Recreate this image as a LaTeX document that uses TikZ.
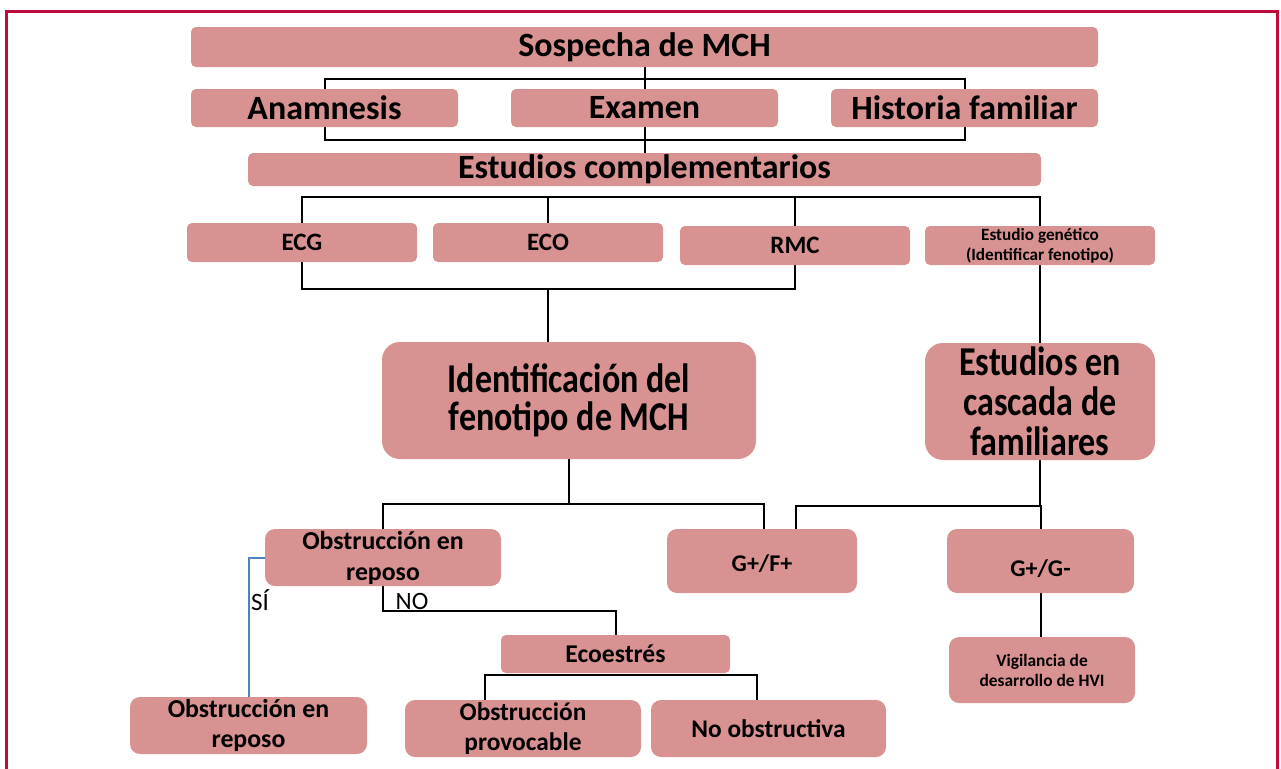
\documentclass[tikz,border=0pt]{standalone}
\usepackage{fontspec}
\setmainfont{Carlito}
\newfontfamily\condfont[FakeStretch=0.83]{Carlito}
\usetikzlibrary{calc}
\definecolor{boxc}{RGB}{216,146,145}
\definecolor{framec}{RGB}{192,10,60}
\definecolor{bluel}{RGB}{79,129,189}
\pgfdeclarelayer{background}
\pgfsetlayers{background,main}
\begin{document}
\begin{tikzpicture}[x=0.5pt,y=-0.5pt,
  box/.style={fill=boxc, rounded corners=2.5pt, inner sep=0pt, align=center},
  mid/.style={box, rounded corners=5pt},
  big/.style={box, rounded corners=9pt},
  conn/.style={draw=black, line width=1pt},
  blueconn/.style={draw=bluel, line width=1pt},
  lbl/.style={inner sep=0pt, font=\fontsize{12.5}{14}\selectfont}]
\useasboundingbox (0,0) rectangle (1281,768);

% frame
\draw[framec, line width=1.5pt] (6,772) -- (6,11) -- (1277,11) -- (1277,772);

% boxes
\node[box, minimum width=453.5pt, minimum height=20pt, font=\bfseries\fontsize{17}{20}\selectfont] (sos) at (644.5,47) {Sospecha de MCH};
\node[box, minimum width=133.5pt, minimum height=19pt, font=\bfseries\fontsize{17}{20}\selectfont] (ana) at (324.5,108) {Anamnesis};
\node[box, minimum width=133.5pt, minimum height=19pt, font=\bfseries\fontsize{17}{20}\selectfont] (exa) at (644.5,108) {Examen};
\node[box, minimum width=133.5pt, minimum height=19pt, font=\bfseries\fontsize{17}{20}\selectfont] (his) at (964.5,108) {Historia familiar};
\node[box, minimum width=396.5pt, minimum height=16.5pt, font=\bfseries\fontsize{17}{20}\selectfont] (est) at (644.5,169.5) {Estudios complementarios};

\node[box, minimum width=115pt, minimum height=19.5pt, font=\bfseries\fontsize{12.5}{15}\selectfont] (ecg) at (302,242.5) {ECG};
\node[box, minimum width=115pt, minimum height=19.5pt, font=\bfseries\fontsize{12.5}{15}\selectfont] (eco) at (548,242.5) {ECO};
\node[box, minimum width=115pt, minimum height=19.5pt, font=\bfseries\fontsize{12.5}{15}\selectfont] (rmc) at (795,245.5) {RMC};
\node[box, minimum width=115pt, minimum height=19.5pt, font=\bfseries\fontsize{8.6}{10}\selectfont] (gen) at (1040,245.5) {Estudio genético\\(Identificar fenotipo)};

\node[big, minimum width=187pt, minimum height=58.5pt, font=\condfont\bfseries\fontsize{20.5}{19}\selectfont] (idf) at (569,400.5) {Identificación del\\fenotipo de MCH};
\node[big, minimum width=115pt, minimum height=58.5pt, font=\condfont\bfseries\fontsize{20.5}{20}\selectfont] (cas) at (1040,401.5) {Estudios en\\cascada de\\familiares};

\node[mid, minimum width=118pt, minimum height=28.5pt, font=\bfseries\fontsize{12.9}{15.5}\selectfont] (obs1) at (383,557.5) {Obstrucción en\\reposo};
\node[mid, minimum width=95pt, minimum height=32pt, font=\bfseries\fontsize{12}{14}\selectfont] (gff) at (762,561) {\raisebox{-5pt}[0pt][0pt]{G+/F+}};
\node[mid, minimum width=93.5pt, minimum height=32pt, font=\bfseries\fontsize{12}{14}\selectfont] (ggg) at (1040.5,561) {\raisebox{-7.6pt}[0pt][0pt]{G+/G-}};
\node[mid, minimum width=93pt, minimum height=33pt, font=\bfseries\fontsize{8.7}{10}\selectfont] (vig) at (1042,670) {Vigilancia de\\desarrollo de HVI};

\node[box, minimum width=114.5pt, minimum height=19pt, font=\bfseries\fontsize{12.8}{15}\selectfont] (ecoe) at (615.5,654) {Ecoestrés};
\node[mid, minimum width=118.5pt, minimum height=28.5pt, font=\bfseries\fontsize{12.9}{15.4}\selectfont] (obs2) at (248.5,725.5) {Obstrucción en\\reposo};
\node[mid, minimum width=118pt, minimum height=28.5pt, font=\bfseries\fontsize{12.7}{15.4}\selectfont] (prov) at (523,728.5) {Obstrucción\\provocable};
\node[mid, minimum width=117.5pt, minimum height=28.5pt, font=\bfseries\fontsize{12.7}{15}\selectfont] (noob) at (768.5,728.5) {No obstructiva};

% labels
\node[lbl] (si) at (260,600) {SÍ};
\node[lbl] (no) at (412,601) {NO};

% helper coordinates
\coordinate (ya) at (0,79);
\coordinate (yb) at (0,140);
\coordinate (yc) at (0,197);
\coordinate (yd) at (0,289);
\coordinate (ye) at (0,504);
\coordinate (yf) at (0,506);
\coordinate (yg) at (0,611);
\coordinate (yh) at (0,675);
\coordinate (gffa) at ($(gff.north)+(2,0)$);
\coordinate (gffb) at ($(gff.north)+(34,0)$);
\coordinate (prova) at ($(prov.north)+(-38,0)$);
\coordinate (nooba) at ($(noob.north)+(-11.5,0)$);

\begin{pgfonlayer}{background}
\draw[conn] (sos.south) -- (est.north);
\draw[conn] (ana.center) |- (his.center |- ya) -- (his.center);
\draw[conn] (ana.center) |- (his.center |- yb) -- (his.center);
\draw[conn] (ecg.north) |- (gen.north |- yc) -- (gen.north);
\draw[conn] (eco.north) -- (eco.north |- yc);
\draw[conn] (rmc.north) -- (rmc.north |- yc);
\draw[conn] (ecg.south) |- (rmc.south |- yd) -- (rmc.south);
\draw[conn] (eco.south |- yd) -- (eco.south |- idf.north);
\draw[conn] (gen.south) -- (cas.north);
\draw[conn] (idf.south) -- (idf.south |- ye);
\draw[conn] (obs1.north) |- (gffa |- ye) -- (gffa);
\draw[conn] (cas.south) -- (cas.south |- yf);
\draw[conn] (gffb) |- (ggg.north |- yf) -- (ggg.north);
\draw[conn] (ggg.south) -- (ggg.south |- vig.north);
\draw[blueconn] (obs1.west) -| (obs2.north);
\draw[conn] (obs1.south) |- (ecoe.north |- yg) -- (ecoe.north);
\draw[conn] (prova) |- (nooba |- yh) -- (nooba);
\end{pgfonlayer}
\end{tikzpicture}
\end{document}
